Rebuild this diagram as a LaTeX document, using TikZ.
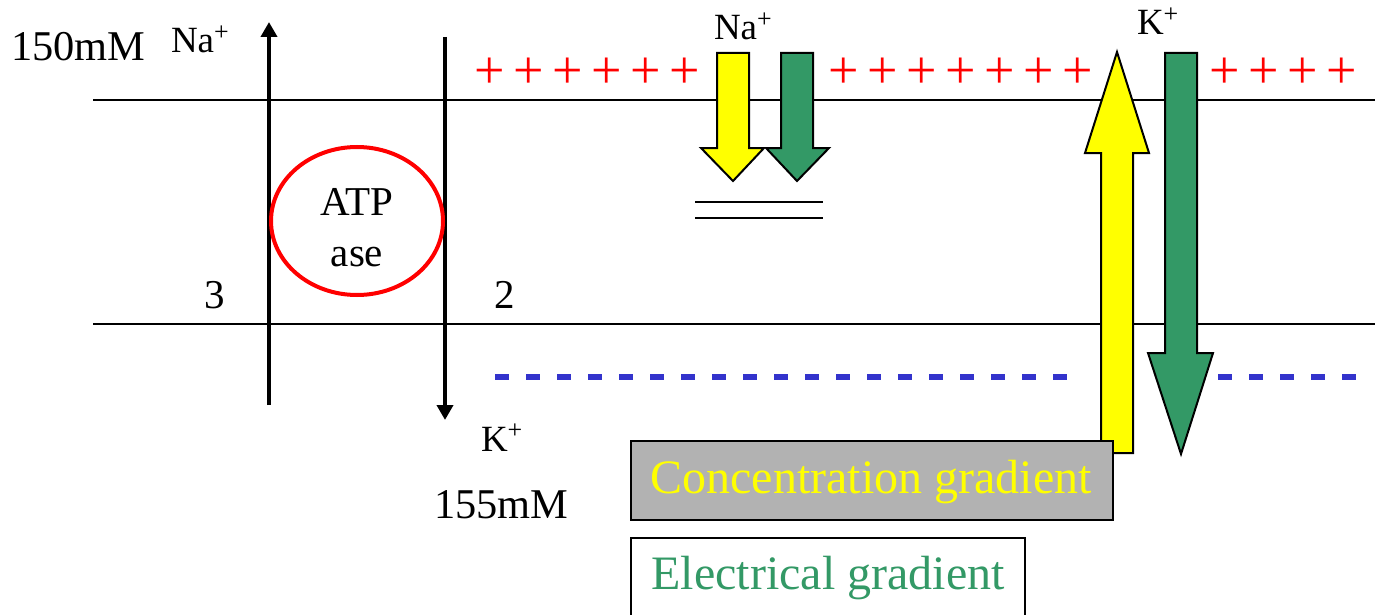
\documentclass[tikz,border=0pt]{standalone}
\usepackage{fontspec}
\setmainfont{Liberation Serif}
\usetikzlibrary{arrows.meta,shapes.geometric}
\definecolor{sgreen}{HTML}{339966}
\definecolor{ybright}{HTML}{FFFF00}
\definecolor{dblue}{HTML}{3333CC}
\definecolor{boxgray}{HTML}{B2B2B2}
\newcommand{\fsz}[1]{\fontsize{#1}{#1}\selectfont}
\tikzset{
  txt/.style={inner sep=0pt, outer sep=0pt, text=black},
  membrane/.style={line width=1pt, black},
  pumparrow/.style={line width=2pt, black, -{Triangle[width=8pt,length=7.5pt]}},
  blockarrow/.style={line width=1pt, draw=black, line join=miter},
  plussign/.style={txt, text=red, font=\fsz{27}},
  dashmark/.style={fill=dblue, draw=none},
  gradbox/.style={line width=1pt, draw=black},
}
\begin{document}
\begin{tikzpicture}[x=0.5pt,y=-0.5pt]
\clip (0,0) rectangle (1375,615);
\fill[white] (0,0) rectangle (1375,615);

% membranes
\coordinate (mtl) at (93,100); \coordinate (mtr) at (1375,100);
\coordinate (mbl) at (93,324); \coordinate (mbr) at (1375,324);
\draw[membrane] (mtl) -- (mtr);
\draw[membrane] (mbl) -- (mbr);

% pump bars
\coordinate (upS) at (269,405); \coordinate (upE) at (269,22);
\coordinate (dnS) at (445,37); \coordinate (dnE) at (445,420);
\draw[pumparrow] (upS) -- (upE);
\draw[pumparrow] (dnS) -- (dnE);

% ATPase ellipse
\node[draw=red, line width=2pt, ellipse, inner sep=0pt, minimum width=86pt, minimum height=74pt] (atpase) at (357,221) {};
\node[txt, font=\fsz{20.5}, anchor=base] (atp) at (357,215) {ATP};
\node[txt, font=\fsz{20.5}, anchor=base] (ase) at (357,266) {ase};

% labels
\node[txt, font=\fsz{21.2}, anchor=base west] (c150) at (11,61) {150mM};
\node[txt, font=\fsz{18.5}, anchor=base west] (na1) at (171,53) {Na\textsuperscript{+}};
\node[txt, font=\fsz{20.5}, anchor=base] (three) at (215,308) {3};
\node[txt, font=\fsz{20.5}, anchor=base] (two) at (505,308) {2};
\node[txt, font=\fsz{18.5}, anchor=base west] (k1) at (481,451) {K\textsuperscript{+}};
\node[txt, font=\fsz{21.2}, anchor=base west] (c155) at (434,518) {155mM};
\node[txt, font=\fsz{18.5}, anchor=base west] (na2) at (714,40) {Na\textsuperscript{+}};
\node[txt, font=\fsz{18.5}, anchor=base west] (k2) at (1137,35) {K\textsuperscript{+}};

% plus signs
\foreach \i in {0,...,5} \node[plussign] at (490+39*\i,73) {+};
\foreach \i in {0,...,6} \node[plussign] at (844+39*\i,73) {+};
\foreach \i in {0,...,3} \node[plussign] at (1225+39*\i,73) {+};

% minus dashes
\foreach \i in {0,...,18} \fill[dashmark] (495+31*\i,374) rectangle (509+31*\i,380);
\foreach \i in {0,...,4} \fill[dashmark] (1218+31*\i,374) rectangle (1232+31*\i,380);

% Na+ gradient arrows
\draw[blockarrow, fill=ybright] (717,53) -- (749,53) -- (749,148) -- (764,148) -- (733,181) -- (701,148) -- (717,148) -- cycle;
\draw[blockarrow, fill=sgreen] (781,53) -- (813,53) -- (813,148) -- (829,148) -- (797,181) -- (766,148) -- (781,148) -- cycle;
\draw[line width=1pt] (695,202) -- (823,202);
\draw[line width=1pt] (695,218) -- (823,218);

% K+ gradient arrows
\draw[blockarrow, fill=ybright] (1101,453) -- (1133,453) -- (1133,153) -- (1149,153) -- (1117,52) -- (1085,153) -- (1101,153) -- cycle;
\draw[blockarrow, fill=sgreen] (1165,53) -- (1197,53) -- (1197,353) -- (1213,353) -- (1181,454) -- (1148,353) -- (1165,353) -- cycle;

% legend boxes
\draw[gradbox, fill=boxgray] (631,441) rectangle (1113,520);
\node[txt, text=ybright, font=\fsz{24}] (conc) at (871,482) {Concentration gradient};
\draw[gradbox, fill=white] (631,538) rectangle (1025,640);
\node[txt, text=sgreen, font=\fsz{24}] (elec) at (828,578) {Electrical gradient};
\end{tikzpicture}
\end{document}
